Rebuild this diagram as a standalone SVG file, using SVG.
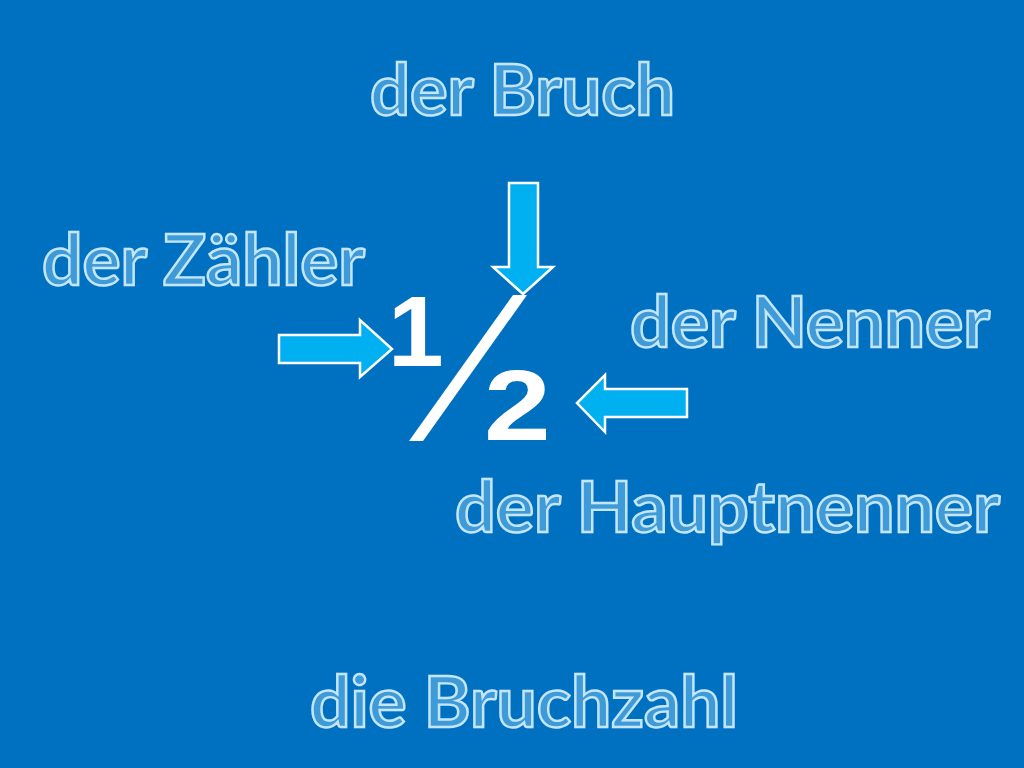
<svg xmlns="http://www.w3.org/2000/svg" width="1024" height="768" viewBox="0 0 1024 768">
<defs>
<style>
.lbl{font-family:Lato,"Open Sans","Liberation Sans",sans-serif;font-weight:bold;font-size:70px;fill:#3f9ad8;stroke:#c4e6fa;stroke-width:2.4;}
.arrow{fill:#00b0f0;stroke:#ffffff;stroke-width:2.5;stroke-linejoin:miter;}
.num{font-family:"Liberation Sans",Arial,sans-serif;font-weight:bold;fill:#ffffff;font-size:100px;}
</style>
</defs>
<rect x="0" y="0" width="1024" height="768" fill="#0070c0"/>
<g id="label-bruch"><text class="lbl" x="370" y="115" textLength="305" lengthAdjust="spacingAndGlyphs">der Bruch</text></g>
<g id="label-zaehler"><text class="lbl" x="42" y="285" textLength="323" lengthAdjust="spacingAndGlyphs">der Zähler</text></g>
<g id="label-nenner"><text class="lbl" x="630" y="347" textLength="360" lengthAdjust="spacingAndGlyphs">der Nenner</text></g>
<g id="label-hauptnenner"><text class="lbl" x="455" y="532" textLength="545" lengthAdjust="spacingAndGlyphs">der Hauptnenner</text></g>
<g id="label-bruchzahl"><text class="lbl" x="310" y="727" textLength="428" lengthAdjust="spacingAndGlyphs">die Bruchzahl</text></g>
<g id="fraction">
<text class="num" transform="translate(388,366)" x="0" y="0">1</text>
<polygon points="409,441 423,441 527,295 513,295" fill="#ffffff"/>
<text class="num" transform="translate(484,440) scale(1.2,1)" x="0" y="0">2</text>
</g>
<g id="connectors">
<polygon class="arrow" points="509,183 538,183 538,267 553,267 523,294 493,267 509,267"/>
<polygon class="arrow" points="279,335 360,335 360,320 392,349 360,377 360,363 279,363"/>
<polygon class="arrow" points="687,389 605,389 605,375 577,403 605,432 605,417 687,417"/>
</g>
</svg>
